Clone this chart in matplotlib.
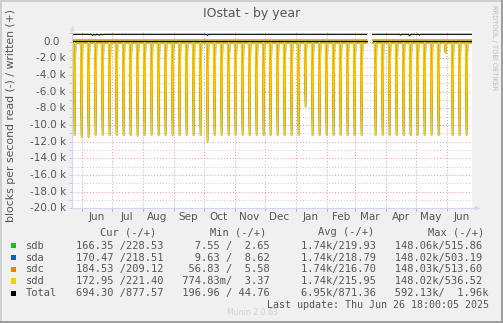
import numpy as np
import pandas as pd
import matplotlib
matplotlib.use("Agg")
import matplotlib.pyplot as plt
import matplotlib.dates as mdates
import matplotlib.transforms as mtrans
from matplotlib.ticker import MultipleLocator, NullFormatter
from matplotlib.patches import Rectangle, Polygon
from matplotlib.lines import Line2D

W, H = 503, 323
BG = "#F0F0F0"
FONT = "#555555"
AXIS = "#CFD6F8"

# ---- data -------------------------------------------------------------
t_start = pd.Timestamp("2024-05-22 18:00")
t_end = pd.Timestamp("2025-06-26 18:00")
days = pd.date_range("2024-05-22", "2025-06-26", freq="D")
gap = pd.date_range("2025-03-14", "2025-03-18", freq="D")  # no data

disks = ["sdb", "sda", "sdc", "sdd"]
colors = ["#00CC00", "#0066B3", "#FF8000", "#FFCC00"]

# read rate between the weekly spikes (blocks/s, drawn negative)
read_base = [-166, -170, -185, -173]

# weekly raid check (one day low), first spike on 2024-05-25
spike_first = pd.Timestamp("2024-05-25")
spike_depth = [-11250, -11400, -11450, -11250, -11250, -11250, -11250, -11250,
               -11250, -11300, -11250, -11250, -11250, -11250, -11250, -11250,
               -11250, -11250, -11250, -12000, -11250, -11250, -11250, -11250,
               -11250, -11250, -11250, -11250, -11250, -11250, -11250, -11250,
               -11250, -7800, -11250, -11250, -11250, -11250, -11250, -11250,
               -11250, -11250, np.nan, -11250, -11250, -11250, -11250, -11250,
               -11250, -11250, -11250, -11250, -11250, -1400, -11250, -11250,
               -11250]

# written (blocks/s), rough monthly readings per disk
w_dates = ["2024-05-22", "2024-06-20", "2024-07-20", "2024-08-20", "2024-09-20",
           "2024-10-20", "2024-11-20", "2024-12-20", "2025-01-20", "2025-02-20",
           "2025-03-13", "2025-03-16", "2025-03-19", "2025-04-20", "2025-05-20",
           "2025-06-26"]
written = {
    "sdb": [230, 210, 245, 200, 225, 215, 240, 205, 220, 240, 215, np.nan, 210, 230, 220, 229],
    "sda": [210, 235, 200, 240, 210, 230, 205, 235, 215, 200, 230, np.nan, 235, 215, 225, 219],
    "sdc": [220, 200, 225, 215, 245, 200, 220, 215, 240, 215, 205, np.nan, 220, 200, 235, 209],
    "sdd": [215, 220, 215, 220, 210, 225, 215, 220, 210, 225, 215, np.nan, 215, 220, 215, 221],
}

# Total written, with the few dips seen in the graph
tw_dates = ["2024-05-22 18:00", "2024-06-11", "2024-06-12", "2024-06-13", "2024-06-15",
            "2024-06-16", "2024-06-17", "2024-06-19", "2024-06-20", "2024-06-22",
            "2024-06-23", "2024-10-04", "2024-10-05", "2024-10-06", "2025-03-13",
            "2025-03-16", "2025-03-19", "2025-04-15", "2025-04-16", "2025-04-17",
            "2025-04-24", "2025-04-25", "2025-04-26", "2025-05-04", "2025-05-05",
            "2025-05-06", "2025-06-26 18:00"]
total_written = [880, 880, 720, 880, 790, 880, 880, 800, 880, 830,
                 880, 880, 760, 880, 880,
                 np.nan, 880, 880, 790, 880,
                 880, 690, 880, 880, 790,
                 880, 878]
# Total read line, sits on zero
tr_dates = ["2024-05-22 18:00", "2025-03-13", "2025-03-16", "2025-03-19", "2025-06-26 18:00"]
total_read = [50, 50, np.nan, 50, 50]

legend_rows = [
    ("sdb", "166.35 /228.53", "  7.55 /  2.65", "  1.74k/219.93", "148.06k/515.86"),
    ("sda", "170.47 /218.51", "  9.63 /  8.62", "  1.74k/218.79", "148.02k/503.19"),
    ("sdc", "184.53 /209.12", " 56.83 /  5.58", "  1.74k/216.70", "148.03k/513.60"),
    ("sdd", "172.95 /221.40", "774.83m/  3.37", "  1.74k/215.95", "148.02k/536.52"),
    ("Total", "694.30 /877.57", "196.96 / 44.76", "  6.95k/871.36", "592.13k/  1.96k"),
]
legend_colors = colors + ["#000000"]


def dt(lst):
    return pd.to_datetime(lst, format="ISO8601")


# ---- build read series --------------------------------------------------
spike_dates = pd.date_range(spike_first, periods=len(spike_depth), freq="7D")


def read_series(base):
    s = pd.Series(float(base), index=days)
    for d, v in zip(spike_dates, spike_depth):
        if d in s.index:
            s[d] = v
    s[gap] = np.nan
    return s


# ---- figure -------------------------------------------------------------
fig = plt.figure(figsize=(W / 100, H / 100), dpi=100)
fig.patch.set_facecolor(BG)


def fx(x):
    return x / W


def fy(y):
    return 1 - y / H


x0, x1 = 72.3, 472.3
y_top, y_bot = 31.0, 208.3
ax = fig.add_axes([fx(x0), fy(y_bot), (x1 - x0) / W, (y_bot - y_top) / H])
ax.set_facecolor("white")
ax.set_xlim(t_start, t_end)
ax.set_ylim(-20000, 1280)
for s in ax.spines.values():
    s.set_visible(False)

# grid
ax.yaxis.set_major_locator(MultipleLocator(2000))
ax.yaxis.set_minor_locator(MultipleLocator(1000))
ax.xaxis.set_major_locator(mdates.MonthLocator())
ax.xaxis.set_minor_locator(mdates.MonthLocator(bymonthday=16))
ax.xaxis.set_major_formatter(NullFormatter())
ax.xaxis.set_minor_formatter(mdates.DateFormatter("%b"))
ax.yaxis.set_major_formatter(NullFormatter())
ax.grid(which="minor", axis="y", color="#C8C8C8", lw=0.7, ls=(0, (1, 2)), zorder=0)
ax.grid(which="major", axis="y", color="#EE9999", lw=0.7, ls=(0, (1, 2)), zorder=0)
ax.grid(which="major", axis="x", color="#EE9999", lw=0.7, ls=(0, (1, 2)), zorder=0)
ax.tick_params(axis="x", which="major", length=2, color="#EE9999", width=0.7)
ax.tick_params(axis="x", which="minor", length=0, pad=3, labelsize=7.5, labelcolor=FONT)
ax.tick_params(axis="y", which="both", length=2, color="#C8C8C8", width=0.7)
ax.set_axisbelow(True)

# data lines
for name, col, base in zip(disks, colors, read_base):
    r = read_series(base)
    ax.plot(r.index, r.values, color=col, lw=0.9, zorder=2)
    ax.plot(dt(w_dates), written[name], color=col, lw=0.8, zorder=2)
ax.plot(dt(tw_dates), total_written, color="black", lw=0.8, zorder=3)
ax.plot(dt(tr_dates), total_read, color="black", lw=0.8, zorder=3)

# y tick labels
ylab_tr = mtrans.blended_transform_factory(fig.transFigure, ax.transData)
for v in np.arange(-20000, 1, 2000):
    if v == 0:
        ax.text(fx(59.5), v, "0.0", ha="right", va="center", fontsize=7.5, color=FONT,
                transform=ylab_tr)
    else:
        ax.text(fx(65.8), v, f"{v / 1000:.1f} k", ha="right", va="center", fontsize=7.5,
                color=FONT, transform=ylab_tr)


# axes lines with arrows
def pline(xs, ys, **kw):
    fig.add_artist(Line2D([fx(x) for x in xs], [fy(y) for y in ys],
                          transform=fig.transFigure, **kw))


def parrow(pts):
    fig.add_artist(Polygon([(fx(x), fy(y)) for x, y in pts], closed=True,
                           transform=fig.transFigure, color=AXIS, lw=0))


pline([x0, 475], [y_bot, y_bot], color=AXIS, lw=0.8)
pline([x0, x0], [y_bot, 31.5], color=AXIS, lw=0.8)
parrow([(475, 205.8), (480.5, y_bot), (475, 210.8)])
parrow([(69.8, 31.5), (x0, 26.5), (74.8, 31.5)])

# texts
fig.text(0.5, fy(13.5), "IOstat - by year", ha="center", va="center", fontsize=9, color="#555555")
fig.text(fx(11), fy(115), "blocks per second read (-) / written (+)", rotation=90,
         ha="center", va="center", fontsize=7.8, color=FONT)
fig.text(fx(494), fy(5), "RRDTOOL / TOBI OETIKER", rotation=270, ha="center", va="top",
         fontsize=4.8, color="#BBBBBB")

mono = "DejaVu Sans Mono"
for hx, h in zip([100, 209.7, 318.3, 428.3], ["Cur (-/+)", "Min (-/+)", "Avg (-/+)", "Max (-/+)"]):
    fig.text(fx(hx), fy(232.3), h, ha="left", va="center", fontsize=7.5, family=mono, color=FONT)

row_y = [245.7, 257.7, 269.3, 281, 293.3]
for (name, cur, mn, avg, mx), col, yy in zip(legend_rows, legend_colors, row_y):
    fig.add_artist(Rectangle((fx(11), fy(yy + 2.6)), 5.3 / W, 5.3 / H,
                             transform=fig.transFigure, color=col, lw=0))
    fig.text(fx(26), fy(yy), name, ha="left", va="center", fontsize=7.5, family=mono, color=FONT)
    fig.text(fx(76.5), fy(yy), f"{cur}   {mn}   {avg}   {mx}", ha="left", va="center",
             fontsize=7.5, family=mono, color=FONT)

fig.text(fx(489), fy(305.3), "Last update: Thu Jun 26 18:00:05 2025", ha="right", va="center",
         fontsize=7.2, family=mono, color=FONT)
fig.text(fx(227), fy(312.7), "Munin 2.0.63", ha="left", va="center", fontsize=5.6, color="#D0D0D0")

# 3d border
for (x, y, w, h, c) in [(0, 0, W, 2, "#CFCFCF"), (0, 0, 2, H, "#CFCFCF"),
                        (0, H - 2, W, 2, "#9E9E9E"), (W - 2, 0, 2, H, "#9E9E9E")]:
    fig.add_artist(Rectangle((fx(x), fy(y + h)), w / W, h / H, transform=fig.transFigure,
                             color=c, lw=0))

fig.savefig("out.png", dpi=100, facecolor=BG)
